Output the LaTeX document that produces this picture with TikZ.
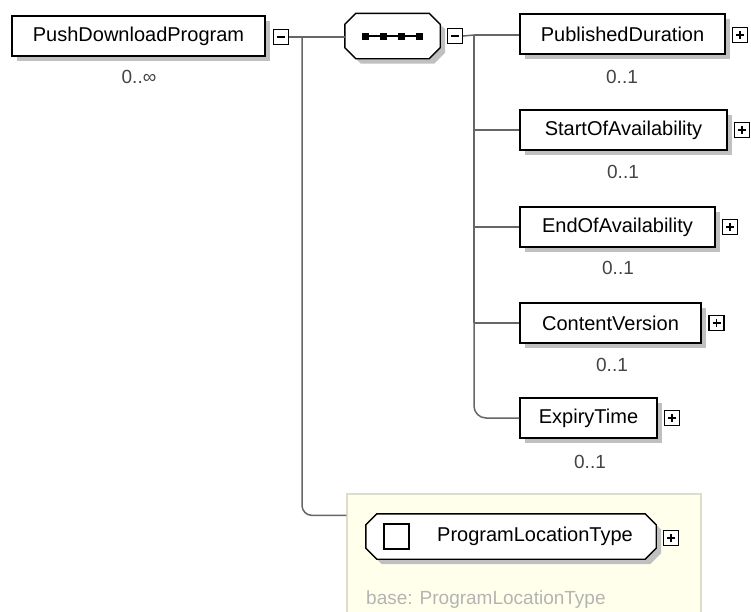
\documentclass[tikz,border=0pt]{standalone}
\usepackage{fontspec}
\setmainfont{Liberation Sans}
\usetikzlibrary{calc}
\definecolor{conn}{HTML}{666666}
\definecolor{shadowgray}{HTML}{C0C0C0}
\definecolor{mult}{HTML}{444444}
\definecolor{ylwfill}{HTML}{FFFFEC}
\definecolor{ylwdraw}{HTML}{DDDDCC}
\definecolor{basetxt}{HTML}{B4B4B4}
\tikzset{
  elem/.style={draw=black, line width=1.4pt, fill=white, minimum height=40pt, inner sep=0pt,
    font=\fontsize{20}{24}\selectfont},
  shadowbox/.style={fill=shadowgray, draw=none, minimum height=40pt, inner sep=0pt},
  octo/.style={inner sep=0pt},
  octoline/.style={draw=black, line width=1.4pt, fill=white},
  shadowfill/.style={fill=shadowgray, draw=none},
  expbox/.style={draw=black, line width=1.2pt, fill=white, minimum size=15pt, inner sep=0pt},
  minusbox/.style={expbox, path picture={
    \draw[line width=1.3pt] ([xshift=3.5pt]path picture bounding box.west) -- ([xshift=-3.5pt]path picture bounding box.east);}},
  plusbox/.style={expbox, path picture={
    \draw[line width=1.3pt] ([xshift=3.5pt]path picture bounding box.west) -- ([xshift=-3.5pt]path picture bounding box.east);
    \draw[line width=1.3pt] ([yshift=-3.5pt]path picture bounding box.north) -- ([yshift=3.5pt]path picture bounding box.south);}},
  conn/.style={draw=conn, line width=1.5pt},
  multlbl/.style={text=mult, font=\fontsize{19}{22}\selectfont, inner sep=0pt},
  seqdot/.style={fill=black, minimum size=7pt, inner sep=0pt}
}
\newcommand{\octopath}[3]{% node name, chamfer, offset
  ($(#1.north west)+(#2+#3,#3)$) -- ($(#1.north east)+(-#2+#3,#3)$) -- ($(#1.north east)+(#3,#2+#3)$) --
  ($(#1.south east)+(#3,-#2+#3)$) -- ($(#1.south east)+(-#2+#3,#3)$) -- ($(#1.south west)+(#2+#3,#3)$) --
  ($(#1.south west)+(#3,-#2+#3)$) -- ($(#1.north west)+(#3,#2+#3)$) -- cycle}
\begin{document}
\begin{tikzpicture}[x=1pt,y=-1pt]
\fill[white] (0,0) rectangle (751,611);
\clip (0,0) rectangle (751,611);

% yellow complex type box
\node[draw=ylwdraw, fill=ylwfill, line width=1.2pt, minimum width=354pt, minimum height=150pt, inner sep=0pt] (ylw) at (524,569) {};
\coordinate (ylwin) at ([yshift=-22pt]ylw.north west);

% root element
\node[shadowbox, minimum width=253pt] (pdpsh) at (143.5,41) {};
\node[elem, minimum width=253pt] (pdp) at (138.5,36) {PushDownloadProgram};
\node[minusbox] (m1) at (281,37) {};
\node[multlbl] (pdpm) at (139,77) {0..∞};

% sequence compositor
\node[octo, minimum width=95pt, minimum height=45pt] (seq) at (392.5,36) {};
\path[shadowfill] \octopath{seq}{11}{5};
\path[octoline] \octopath{seq}{11}{0};
\draw[line width=1.4pt] ($(seq.center)+(-27,0)$) -- ($(seq.center)+(27,0)$);
\foreach \dx in {-27,-9,9,27} \node[seqdot] at ($(seq.center)+(\dx,0)$) {};
\node[minusbox] (m2) at (455,36) {};

% children
\node[shadowbox, minimum width=205pt] (e1sh) at (627.5,39) {};
\node[elem, minimum width=205pt] (e1) at (622.5,34) {PublishedDuration};
\node[plusbox] (p1) at (740,35) {};
\node[multlbl] (e1m) at (622,77) {0..1};

\node[shadowbox, minimum width=207pt] (e2sh) at (628.5,135) {};
\node[elem, minimum width=207pt] (e2) at (623.5,130) {StartOfAvailability};
\node[plusbox] (p2) at (742,130) {};
\node[multlbl] (e2m) at (623,172) {0..1};

\node[shadowbox, minimum width=195pt] (e3sh) at (622.5,232) {};
\node[elem, minimum width=195pt] (e3) at (617.5,227) {EndOfAvailability};
\node[plusbox] (p3) at (730,227) {};
\node[multlbl] (e3m) at (618,268) {0..1};

\node[shadowbox, minimum width=181pt] (e4sh) at (615.5,328) {};
\node[elem, minimum width=181pt] (e4) at (610.5,323) {ContentVersion};
\node[plusbox] (p4) at (716.5,323) {};
\node[multlbl] (e4m) at (612,365) {0..1};

\node[shadowbox, minimum width=137pt] (e5sh) at (593.5,423) {};
\node[elem, minimum width=137pt] (e5) at (588.5,418) {ExpiryTime};
\node[plusbox] (p5) at (672,418) {};
\node[multlbl] (e5m) at (590,462) {0..1};

% ProgramLocationType
\node[octo, minimum width=290pt, minimum height=45pt] (plt) at (511,536.5) {};
\path[shadowfill] \octopath{plt}{11}{5};
\path[octoline] \octopath{plt}{11}{0};
\node[draw=black, line width=1.4pt, minimum size=25pt, inner sep=0pt] (pltsq) at (396.5,536.5) {};
\node[font=\fontsize{20}{24}\selectfont, inner sep=0pt] (plttxt) at (535,536) {ProgramLocationType};
\node[plusbox] (p6) at (671,538) {};
\node[font=\fontsize{19}{22}\selectfont, text=basetxt, anchor=west, inner sep=0pt] (base) at (366,600) {base: ProgramLocationType};

% connectors
\coordinate (j1) at (302,37);
\coordinate (j2) at (474,35);
\draw[conn] (m1.east) -- (seq.west |- m1.east);
\draw[conn, rounded corners=10pt] (j1) |- (ylwin);
\draw[conn] (m2.east) -- (j2);
\draw[conn] (j2) -- (e1.west |- j2);
\draw[conn] (j2) -- (j2 |- e4.west);
\draw[conn] ($(j2)+(0,95)$) -- (e2.west);
\draw[conn] ($(j2)+(0,192)$) -- (e3.west);
\draw[conn] ($(j2)+(0,288)$) -- (e4.west);
\draw[conn, rounded corners=12pt] (j2 |- e4.west) |- (e5.west);
\end{tikzpicture}
\end{document}
